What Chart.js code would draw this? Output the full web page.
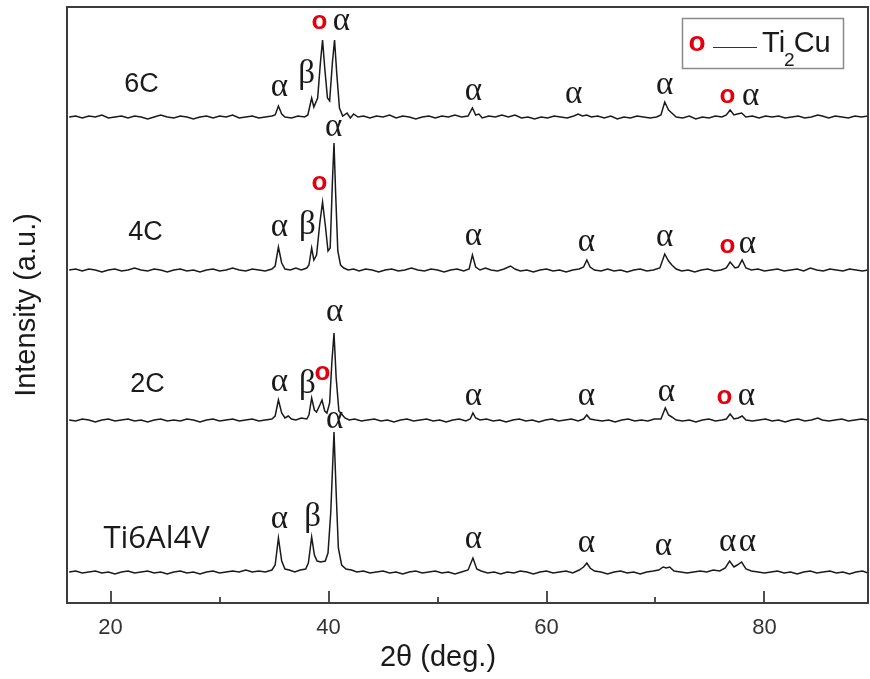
<!DOCTYPE html>
<html><head><meta charset="utf-8">
<script src="https://cdn.jsdelivr.net/npm/chart.js@4/dist/chart.umd.min.js"></script>
<style>html,body{margin:0;padding:0;background:#fff}#wrap{width:870px;height:679px}</style>
</head><body><div id="wrap"><canvas id="c" width="870" height="679"></canvas></div>
<script>
// ---------- data ----------
const xRange = [16, 89.5];          // 2θ (deg.)
const yRange = [0, 596];            // intensity (a.u.), traces stacked
const xTickValues = [20, 30, 40, 50, 60, 70, 80];
const xTickLabels = ['20', '', '40', '', '60', '', '80'];
const sampleNames = ['6C', '4C', '2C', 'Ti6Al4V'];

const pattern6C = [[16.2,486],[16.8,487],[17.4,485],[18.0,487],[18.6,486],[19.2,488],[19.8,485],[20.4,486],[21.0,487],[21.6,485],[22.2,487],[22.8,486],[23.4,484],[24.0,486],[24.6,488],[25.2,486],[25.8,485],[26.4,487],[27.0,486],[27.6,484],[28.2,486],[28.8,487],[29.4,485],[30.0,487],[30.6,486],[31.2,488],[31.8,485],[32.4,486],[33.0,487],[33.6,485],[34.2,486],[34.8,487],[35.1,488],[35.4,497],[35.7,489],[36.0,486],[36.6,485],[37.2,487],[37.8,486],[38.1,488],[38.45,505],[38.65,496],[39.0,505],[39.25,540],[39.45,563],[39.65,535],[39.9,505],[40.1,502],[40.35,540],[40.55,563],[40.75,530],[41.0,495],[41.3,487],[41.7,490],[42.0,485],[42.3,489],[42.7,486],[43.2,487],[43.8,485],[44.4,487],[45.0,486],[45.6,488],[46.2,485],[46.8,487],[47.4,486],[48.0,484],[48.6,486],[49.2,487],[49.8,485],[50.4,487],[51.0,486],[51.6,488],[52.2,486],[52.8,487],[53.2,495],[53.5,488],[53.8,489],[54.1,485],[54.7,487],[55.3,486],[55.9,488],[56.5,486],[57.1,488],[57.7,485],[58.3,486],[58.9,484],[59.5,486],[60.1,485],[60.7,487],[61.3,486],[61.9,485],[62.5,487],[62.9,489],[63.3,487],[63.7,488],[64.1,486],[64.7,487],[65.3,485],[65.9,487],[66.5,484],[67.1,486],[67.7,485],[68.3,487],[68.9,486],[69.5,485],[70.1,486],[70.5,488],[70.85,501],[71.2,493],[71.5,490],[71.9,486],[72.5,485],[73.1,487],[73.7,484],[74.3,486],[74.9,485],[75.5,487],[76.1,486],[76.5,488],[76.85,493],[77.2,488],[77.5,489],[77.9,490],[78.3,486],[78.9,487],[79.5,485],[80.1,487],[80.7,486],[81.3,487],[81.9,485],[82.5,486],[83.1,487],[83.7,485],[84.3,486],[84.9,488],[85.3,487],[85.9,485],[86.5,487],[87.1,486],[87.7,485],[88.3,487],[88.9,486],[89.5,487]];

const pattern4C = [[16.2,333],[16.8,334],[17.4,332],[18.0,334],[18.6,333],[19.2,331],[19.8,333],[20.4,334],[21.0,332],[21.6,333],[22.2,335],[22.8,333],[23.4,332],[24.0,334],[24.6,333],[25.2,331],[25.8,333],[26.4,334],[27.0,332],[27.6,333],[28.2,331],[28.8,333],[29.4,334],[30.0,332],[30.6,333],[31.2,335],[31.8,333],[32.4,332],[33.0,334],[33.6,333],[34.2,332],[34.8,334],[35.1,337],[35.4,356],[35.7,340],[36.0,334],[36.5,333],[37.0,335],[37.5,333],[38.0,335],[38.2,338],[38.45,355],[38.65,343],[38.9,348],[39.2,380],[39.45,401],[39.7,378],[39.95,352],[40.15,355],[40.35,420],[40.5,460],[40.65,410],[40.85,352],[41.1,338],[41.4,335],[41.8,333],[42.3,334],[42.8,332],[43.4,334],[44.0,333],[44.6,331],[45.2,333],[45.8,334],[46.4,332],[47.0,333],[47.6,335],[48.2,333],[48.8,332],[49.4,334],[50.0,333],[50.6,331],[51.2,333],[51.8,334],[52.4,332],[52.9,334],[53.2,348],[53.5,336],[53.9,333],[54.4,335],[54.9,333],[55.5,332],[56.1,334],[56.7,337],[57.1,334],[57.6,332],[58.2,333],[58.8,331],[59.4,333],[60.0,334],[60.6,332],[61.2,333],[61.8,331],[62.4,333],[63.0,334],[63.4,336],[63.7,343],[64.0,336],[64.4,333],[65.0,332],[65.6,334],[66.2,332],[66.8,333],[67.4,331],[68.0,333],[68.6,334],[69.2,332],[69.8,333],[70.4,335],[70.85,349],[71.2,342],[71.5,338],[71.9,334],[72.4,332],[73.0,333],[73.6,331],[74.2,333],[74.8,334],[75.4,332],[76.0,333],[76.5,335],[76.85,341],[77.3,335],[77.6,336],[77.95,343],[78.3,335],[78.8,333],[79.4,334],[80.0,332],[80.6,333],[81.2,334],[81.8,332],[82.4,333],[83.0,334],[83.6,332],[84.2,335],[84.8,333],[85.4,332],[86.0,334],[86.6,333],[87.2,332],[87.8,334],[88.4,333],[89.0,332],[89.5,333]];

const pattern2C = [[16.2,183],[16.8,182],[17.4,184],[18.0,183],[18.6,181],[19.2,183],[19.8,184],[20.4,182],[21.0,183],[21.6,184],[22.2,182],[22.8,183],[23.4,181],[24.0,183],[24.6,184],[25.2,182],[25.8,183],[26.4,182],[27.0,184],[27.6,183],[28.2,181],[28.8,183],[29.4,184],[30.0,182],[30.6,183],[31.2,184],[31.8,182],[32.4,183],[33.0,184],[33.6,182],[34.2,183],[34.8,184],[35.1,187],[35.4,203],[35.7,190],[36.0,185],[36.3,187],[36.6,184],[37.0,183],[37.5,185],[38.0,184],[38.2,188],[38.45,205],[38.7,193],[38.9,191],[39.2,198],[39.4,203],[39.65,192],[39.85,190],[40.1,200],[40.3,240],[40.5,270],[40.7,225],[40.95,192],[41.2,189],[41.5,185],[41.9,183],[42.4,184],[43.0,182],[43.6,183],[44.2,184],[44.8,182],[45.4,183],[46.0,181],[46.6,183],[47.2,184],[47.8,182],[48.4,183],[49.0,184],[49.6,182],[50.2,183],[50.8,181],[51.4,183],[52.0,184],[52.6,182],[53.0,184],[53.25,190],[53.5,185],[53.9,183],[54.5,184],[55.1,182],[55.7,183],[56.3,181],[56.9,183],[57.5,184],[58.1,182],[58.7,183],[59.3,181],[59.9,183],[60.5,184],[61.1,182],[61.7,183],[62.3,184],[62.9,182],[63.4,184],[63.7,188],[64.0,184],[64.5,183],[65.1,182],[65.7,183],[66.3,181],[66.9,183],[67.5,184],[68.1,182],[68.7,183],[69.3,182],[69.9,184],[70.5,184],[70.9,195],[71.2,188],[71.5,186],[71.9,183],[72.5,182],[73.1,183],[73.7,181],[74.3,183],[74.9,184],[75.5,182],[76.1,183],[76.5,184],[76.85,189],[77.2,184],[77.6,185],[77.95,187],[78.3,183],[78.9,182],[79.5,183],[80.1,184],[80.7,182],[81.3,183],[81.9,181],[82.5,183],[83.1,184],[83.7,182],[84.3,183],[84.9,185],[85.3,183],[85.9,182],[86.5,183],[87.1,184],[87.7,182],[88.3,183],[88.9,184],[89.5,183]];

const patternTi6Al4V = [[16.2,31],[16.8,32],[17.4,30],[18.0,31],[18.6,32],[19.2,30],[19.8,31],[20.4,29],[21.0,31],[21.6,32],[22.2,30],[22.8,31],[23.4,32],[24.0,30],[24.6,31],[25.2,29],[25.8,31],[26.4,32],[27.0,30],[27.6,31],[28.2,29],[28.8,31],[29.4,32],[30.0,30],[30.6,31],[31.2,32],[31.8,31],[32.4,33],[33.0,31],[33.6,32],[34.2,31],[34.8,33],[35.1,38],[35.4,65],[35.7,42],[36.0,34],[36.4,33],[36.9,31],[37.4,33],[37.9,34],[38.15,40],[38.45,66],[38.7,48],[38.95,42],[39.3,41],[39.7,42],[39.95,50],[40.2,90],[40.5,171],[40.7,110],[40.9,55],[41.2,38],[41.6,34],[42.1,33],[42.6,31],[43.2,32],[43.8,30],[44.4,31],[45.0,32],[45.6,30],[46.2,31],[46.8,29],[47.4,31],[48.0,32],[48.6,30],[49.2,31],[49.8,32],[50.4,30],[51.0,31],[51.6,29],[52.2,31],[52.8,33],[53.25,45],[53.6,34],[54.0,32],[54.6,30],[55.2,31],[55.8,29],[56.4,31],[57.0,30],[57.6,32],[58.2,31],[58.8,29],[59.4,31],[60.0,32],[60.6,30],[61.2,31],[61.8,32],[62.4,30],[63.0,33],[63.4,36],[63.7,40],[64.0,35],[64.4,32],[65.0,31],[65.6,29],[66.2,31],[66.8,32],[67.4,30],[68.0,31],[68.6,29],[69.2,31],[69.8,32],[70.3,33],[70.7,36],[71.0,35],[71.3,36],[71.7,32],[72.3,31],[72.9,30],[73.5,31],[74.1,32],[74.7,31],[75.3,33],[75.9,32],[76.4,35],[76.8,42],[77.2,36],[77.5,38],[77.9,41],[78.3,34],[78.8,32],[79.4,31],[80.0,30],[80.6,31],[81.2,32],[81.8,30],[82.4,31],[83.0,29],[83.6,31],[84.2,32],[84.8,30],[85.4,31],[86.0,32],[86.6,30],[87.2,31],[87.8,29],[88.4,31],[89.0,32],[89.5,30]];

// peak labels: [text, 2θ, intensity]  (o = Ti2Cu)
const peakLabels6C = [['α',35.5,515],['β',37.98,528],['o',39.17,581],['α',41.19,581],['α',53.3,511],['α',62.48,508],['α',70.83,517],['o',76.61,507],['α',78.72,506]];
const peakLabels4C = [['α',35.5,375],['β',38.07,377],['o',39.17,420],['α',40.46,475],['α',53.3,366],['α',63.67,360],['α',70.83,365],['o',76.61,357],['α',78.44,358]];
const peakLabels2C = [['α',35.5,220],['β',38.07,218],['o',39.45,230],['α',40.55,290],['α',53.3,206],['α',63.67,206],['α',71.01,210],['o',76.33,206],['α',78.35,206]];
const peakLabelsTi = [['α',35.5,83],['β',38.53,85],['α',40.55,183],['α',53.3,63],['α',63.67,59],['α',70.73,56],['α',76.61,60],['α',78.44,60]];
// sample name anchors: [2θ, intensity]
const sampleAnchors = [[22.84,521],[23.21,373],[23.39,221],[24.22,66]];
const legendText = ['Ti', '2', 'Cu'];

// ---------- chart ----------
const LINE = '#1a1a1a', AXIS = '#3c3c3c', RED = '#e3000f';
const SANS = '"Liberation Sans", Arial, sans-serif';
const SERIF = '"Liberation Serif", "Times New Roman", serif';

const series = [pattern6C, pattern4C, pattern2C, patternTi6Al4V];
const datasets = series.map((d, i) => ({
  label: sampleNames[i], data: d, borderColor: LINE, borderWidth: 1.5,
  pointRadius: 0, tension: 0, fill: false
}));

const deco = {
  id: 'deco',
  afterDatasetsDraw(chart) {
    const {ctx, chartArea: a, scales: {x, y}} = chart;
    ctx.save();
    // frame
    ctx.strokeStyle = AXIS; ctx.lineWidth = 2;
    ctx.strokeRect(a.left, a.top, a.right - a.left, a.bottom - a.top);
    // inward ticks
    ctx.lineWidth = 1.8;
    x.ticks.forEach((t, i) => {
      const px = Math.round(x.getPixelForValue(t.value));
      const len = xTickLabels[i] ? 12 : 6;
      ctx.beginPath(); ctx.moveTo(px, a.bottom); ctx.lineTo(px, a.bottom - len); ctx.stroke();
    });
    // peak labels
    ctx.textAlign = 'center'; ctx.textBaseline = 'alphabetic';
    const drawLbl = ([t, vx, vy]) => {
      const px = x.getPixelForValue(vx), py = y.getPixelForValue(vy);
      if (t === 'o') {
        ctx.font = 'bold 26px ' + SANS; ctx.fillStyle = RED;
        ctx.fillText('o', px, py + 0.27 * 26);
      } else {
        ctx.font = '33px ' + SERIF; ctx.fillStyle = '#1a1a1a';
        ctx.fillText(t, px, py + (t === 'α' ? 0.23 : 0.24) * 33);
      }
    };
    [peakLabels6C, peakLabels4C, peakLabels2C, peakLabelsTi].forEach(arr => arr.forEach(drawLbl));
    // sample names
    sampleNames.forEach((n, i) => {
      const [vx, vy] = sampleAnchors[i];
      const px = x.getPixelForValue(vx), py = y.getPixelForValue(vy);
      ctx.fillStyle = '#1a1a1a';
      if (n === 'Ti6Al4V') { ctx.font = '31px "Open Sans", Lato, sans-serif'; ctx.fillText(n, px, py + 0.36 * 31); }
      else { ctx.font = '27px ' + SANS; ctx.fillText(n, px, py + 0.36 * 27); }
    });
    // legend box
    ctx.strokeStyle = '#8a8a8a'; ctx.lineWidth = 1.5;
    ctx.strokeRect(682.5, 18.5, 161, 50);
    ctx.font = 'bold 28px ' + SANS; ctx.fillStyle = RED;
    ctx.fillText('o', 697, 43 + 0.27 * 28);
    ctx.strokeStyle = '#333'; ctx.lineWidth = 1;
    ctx.beginPath(); ctx.moveTo(713, 47.5); ctx.lineTo(757, 47.5); ctx.stroke();
    ctx.textAlign = 'left'; ctx.fillStyle = '#1a1a1a';
    ctx.font = '29px ' + SANS;
    ctx.fillText(legendText[0], 762, 52);
    const w0 = ctx.measureText(legendText[0]).width;
    ctx.font = '19px ' + SANS;
    ctx.fillText(legendText[1], 762 + w0 - 1, 66);
    const w1 = ctx.measureText(legendText[1]).width;
    ctx.font = '29px ' + SANS;
    ctx.fillText(legendText[2], 762 + w0 + w1 - 2, 52);
    // x title
    ctx.textAlign = 'center'; ctx.textBaseline = 'middle';
    ctx.font = '29px ' + SANS; ctx.fillStyle = '#1a1a1a';
    ctx.fillText('2θ (deg.)', 438, 658);
    ctx.restore();
  }
};

new Chart(document.getElementById('c'), {
  type: 'line',
  data: { datasets },
  options: {
    responsive: false, animation: false, devicePixelRatio: 1,
    layout: { padding: { top: 7, right: 2, left: 0, bottom: 0 } },
    plugins: { legend: { display: false }, tooltip: { enabled: false } },
    scales: {
      x: {
        type: 'linear', min: xRange[0], max: xRange[1],
        afterBuildTicks: s => { s.ticks = xTickValues.map(v => ({ value: v })); },
        afterFit: s => { s.height = 76; },
        grid: { display: false, drawTicks: false }, border: { display: false },
        ticks: { autoSkip: false, maxRotation: 0, padding: 12, color: '#333',
                 font: { family: SANS, size: 22 },
                 callback: (v, i) => xTickLabels[i] }
      },
      y: {
        type: 'linear', min: yRange[0], max: yRange[1],
        afterFit: s => { s.width = 67; },
        grid: { display: false, drawTicks: false }, border: { display: false },
        ticks: { display: false },
        title: { display: true, text: 'Intensity (a.u.)', color: '#1a1a1a',
                 font: { family: SANS, size: 29 }, padding: { top: 10, bottom: 0 } }
      }
    }
  },
  plugins: [deco]
});
</script></body></html>
